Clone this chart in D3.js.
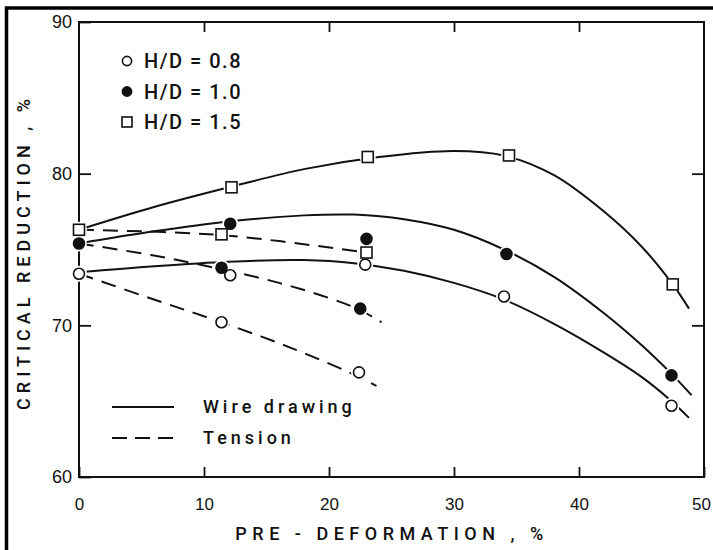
<!DOCTYPE html>
<html>
<head>
<meta charset="utf-8">
<script src="https://cdn.jsdelivr.net/npm/d3@7"></script>
<style>
  body { margin: 0; background: #fff; }
  svg { display: block; font-family: Roboto, "DejaVu Sans", sans-serif; font-weight: 500; }
</style>
</head>
<body>
<svg id="chart" width="713" height="550"></svg>
<script>
// Tick values for both axes.
const xTicks = [0, 10, 20, 30, 40, 50];
const yTicks = [60, 70, 80, 90];

// Measured points [pre-deformation %, critical reduction %] for each H/D ratio.
const ptsH08 = [[0, 73.4], [11.4, 70.2], [12.1, 73.3], [22.4, 66.9], [22.9, 74.0], [34.0, 71.9], [47.4, 64.7]];
const ptsH10 = [[0, 75.4], [11.4, 73.8], [12.1, 76.7], [22.5, 71.1], [23.0, 75.7], [34.2, 74.7], [47.4, 66.7]];
const ptsH15 = [[0, 76.3], [11.4, 76.0], [12.2, 79.1], [23.0, 74.8], [23.1, 81.1], [34.4, 81.2], [47.5, 72.7]];

// Fitted curves.
const wireH08 = [[0, 73.5], [6, 73.9], [12, 74.2], [18, 74.3], [22, 74.1], [26, 73.6], [30, 72.8], [34, 71.7], [38, 70.1], [42, 68.2], [45, 66.6], [47.4, 65.0], [48.8, 63.9]];
const wireH10 = [[0, 75.4], [6, 76.2], [12, 76.85], [18, 77.25], [22, 77.3], [26, 77.0], [30, 76.3], [34, 75.0], [38, 73.2], [42, 70.8], [45, 68.7], [47.4, 66.8], [49, 65.4]];
const wireH15 = [[0, 76.3], [6, 77.8], [12, 79.1], [18, 80.3], [24, 81.1], [30, 81.5], [34, 81.2], [38, 79.9], [42, 77.5], [45, 75.2], [47.5, 72.7], [48.8, 71.1]];
const tensionH08 = [[0, 73.4], [6, 71.7], [11.4, 70.2], [17, 68.5], [22.4, 66.6], [23.8, 66.0]];
const tensionH10 = [[0, 75.4], [6, 74.6], [11.4, 73.7], [16, 72.8], [20, 71.8], [22.5, 71.0], [24.2, 70.2]];
const tensionH15 = [[0, 76.3], [11.4, 75.95], [23.0, 74.8]];

// Legend labels.
const ratioLabels = ["H/D = 0.8", "H/D = 1.0", "H/D = 1.5"];
const processLabels = ["Wire drawing", "Tension"];

const ink = "#111";
const svg = d3.select("#chart");

// Outer black frame of the scan (top and left edges).
svg.append("path")
  .attr("d", "M6.5,550V8H713")
  .attr("fill", "none")
  .attr("stroke", "#000")
  .attr("stroke-width", 3.5);

// Scales.
const x = d3.scaleLinear().domain([0, 50]).range([79, 704]);
const y = d3.scaleLinear().domain([60, 90]).range([477, 22]);

// Plot frame.
svg.append("rect")
  .attr("x", x(0)).attr("y", y(90))
  .attr("width", x(50) - x(0)).attr("height", y(60) - y(90))
  .attr("fill", "none").attr("stroke", ink).attr("stroke-width", 2);

function styleAxis(g) {
  g.select(".domain").remove();
  g.selectAll(".tick line").attr("stroke", ink).attr("stroke-width", 1.8);
  g.selectAll("text").attr("fill", ink).attr("font-size", 17);
}

// Bottom axis with inward ticks.
const xAxis = svg.append("g")
  .attr("transform", `translate(0,${y(60)})`)
  .call(d3.axisBottom(x).tickValues(xTicks).tickSize(-10).tickPadding(21))
  .call(styleAxis);
// keep the last label inside the page
xAxis.selectAll("text").filter(d => d === 50).attr("dx", -3);

// Left axis with inward ticks.
svg.append("g")
  .attr("transform", `translate(${x(0)},0)`)
  .call(d3.axisLeft(y).tickValues(yTicks).tickSize(-12).tickPadding(7))
  .call(styleAxis)
  .selectAll("text").attr("font-size", 18);

// Top and right axes: ticks only.
svg.append("g")
  .attr("transform", `translate(0,${y(90)})`)
  .call(d3.axisTop(x).tickValues([10, 20, 30, 40]).tickSize(-10).tickFormat(""))
  .call(styleAxis);
svg.append("g")
  .attr("transform", `translate(${x(50)},0)`)
  .call(d3.axisRight(y).tickValues([70, 80]).tickSize(-12).tickFormat(""))
  .call(styleAxis);

// Axis titles.
svg.append("text")
  .attr("x", 392).attr("y", 540)
  .attr("text-anchor", "middle")
  .attr("font-size", 18).attr("letter-spacing", 5.5)
  .attr("fill", ink)
  .text("PRE - DEFORMATION , %");

svg.append("text")
  .attr("transform", "translate(30,252) rotate(-90)")
  .attr("text-anchor", "middle")
  .attr("font-size", 18).attr("letter-spacing", 5)
  .attr("fill", ink)
  .text("CRITICAL REDUCTION , %");

// Curves.
const line = d3.line()
  .x(d => x(d[0]))
  .y(d => y(d[1]))
  .curve(d3.curveCatmullRom.alpha(0.5));

const curves = [
  { data: wireH08, dash: null },
  { data: wireH10, dash: null },
  { data: wireH15, dash: null },
  { data: tensionH08, dash: "15,9" },
  { data: tensionH10, dash: "15,9" },
  { data: tensionH15, dash: "15,9" }
];

svg.append("g").selectAll("path")
  .data(curves)
  .enter()
  .append("path")
  .attr("d", d => line(d.data))
  .attr("fill", "none")
  .attr("stroke", ink)
  .attr("stroke-width", 2)
  .attr("stroke-dasharray", d => d.dash);

// Markers: white halo first so the lines break around each symbol.
const sets = [
  { data: ptsH08, kind: "open" },
  { data: ptsH10, kind: "filled" },
  { data: ptsH15, kind: "square" }
];

const halo = svg.append("g");
sets.forEach(s => {
  halo.selectAll(null)
    .data(s.data)
    .enter()
    .append("circle")
    .attr("cx", d => x(d[0]))
    .attr("cy", d => y(d[1]))
    .attr("r", 8)
    .attr("fill", "#fff");
});

function drawMarker(g, kind, cx, cy, size) {
  if (kind === "square") {
    g.append("rect")
      .attr("x", cx - size).attr("y", cy - size)
      .attr("width", size * 2).attr("height", size * 2)
      .attr("fill", "#fff").attr("stroke", ink).attr("stroke-width", 1.6);
  } else {
    g.append("circle")
      .attr("cx", cx).attr("cy", cy).attr("r", size)
      .attr("fill", kind === "filled" ? ink : "#fff")
      .attr("stroke", ink).attr("stroke-width", 1.6);
  }
}

const marks = svg.append("g");
sets.forEach(s => {
  s.data.forEach(d => {
    drawMarker(marks, s.kind, x(d[0]), y(d[1]), 5.5);
  });
});

// Legend for H/D symbols.
const legend = svg.append("g");
ratioLabels.forEach((label, i) => {
  const ly = 61 + i * 30.5;
  drawMarker(legend, sets[i].kind, 127, ly, sets[i].kind === "square" ? 5 : 4.6);
  legend.append("text")
    .attr("x", 144).attr("y", ly)
    .attr("dy", "0.36em")
    .attr("font-size", 20).attr("letter-spacing", 1.5)
    .attr("fill", ink)
    .text(label);
});

// Legend for line styles.
processLabels.forEach((label, i) => {
  const ly = 407 + i * 31;
  legend.append("line")
    .attr("x1", 112).attr("x2", 174)
    .attr("y1", ly).attr("y2", ly)
    .attr("stroke", ink).attr("stroke-width", 2)
    .attr("stroke-dasharray", i === 1 ? "15,8" : null);
  legend.append("text")
    .attr("x", 203).attr("y", ly)
    .attr("dy", "0.36em")
    .attr("font-size", 18).attr("letter-spacing", 4)
    .attr("fill", ink)
    .text(label);
});
</script>
</body>
</html>
